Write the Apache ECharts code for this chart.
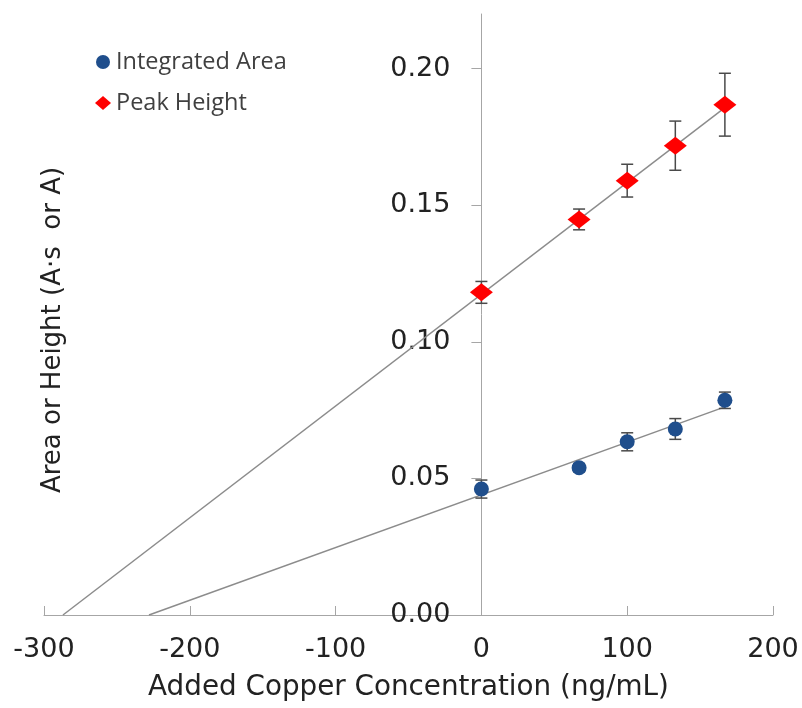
<!DOCTYPE html>
<html>
<head>
<meta charset="utf-8">
<script src="https://cdn.jsdelivr.net/npm/echarts@6/dist/echarts.min.js"></script>
<style>
html,body{margin:0;padding:0;background:#fff;}
#chart{width:802px;height:708px;}
</style>
</head>
<body>
<div id="chart"></div>
<script>
// ---- data ----
const concentrations = [0, 67, 100, 133, 167];
const integratedArea = [0.0461, 0.0539, 0.0634, 0.0681, 0.0786];
const areaError = [0.0033, 0.0015, 0.0033, 0.0038, 0.0030];
const peakHeight = [0.1181, 0.1448, 0.1590, 0.1718, 0.1868];
const peakError = [0.0040, 0.0038, 0.0060, 0.0090, 0.0115];
const areaTrend = [[-228, 0], [167, 0.0762]];
const peakTrend = [[-287, 0], [167, 0.1857]];
const xTicks = [-300, -200, -100, 0, 100, 200];
const yTicks = [0, 0.05, 0.10, 0.15, 0.20];
const seriesNames = ['Integrated Area', 'Peak Height'];
const xTitle = 'Added Copper Concentration (ng/mL)';
const yTitle = 'Area or Height (A·s  or A)';

const pts = (xs, ys) => xs.map((x, i) => [x, ys[i]]);
const errData = (xs, ys, es) => xs.map((x, i) => [x, ys[i] - es[i], ys[i] + es[i]]);

function errorBar(params, api) {
  const x = api.value(0);
  const lo = api.coord([x, api.value(1)]);
  const hi = api.coord([x, api.value(2)]);
  const cap = 6;
  const style = { stroke: '#4a4a4a', lineWidth: 1.5, fill: null };
  return {
    type: 'group',
    children: [
      { type: 'line', shape: { x1: lo[0], y1: lo[1], x2: hi[0], y2: hi[1] }, style },
      { type: 'line', shape: { x1: lo[0] - cap, y1: lo[1], x2: lo[0] + cap, y2: lo[1] }, style },
      { type: 'line', shape: { x1: hi[0] - cap, y1: hi[1], x2: hi[0] + cap, y2: hi[1] }, style }
    ]
  };
}

const font = 'DejaVu Sans, sans-serif';
const gridLeft = 44, gridRight = 29;
const plotW = 802 - gridLeft - gridRight;
// shift the y axis onto x = 0
const yOffset = -plotW * (0 - xTicks[0]) / (xTicks[xTicks.length - 1] - xTicks[0]);

const chart = echarts.init(document.getElementById('chart'), null, { renderer: 'canvas' });
chart.setOption({
  animation: false,
  backgroundColor: '#fff',
  grid: { left: gridLeft, right: gridRight, top: 14, bottom: 93, containLabel: false, outerBoundsMode: 'none' },
  legend: {
    data: [
      { name: seriesNames[0], icon: 'circle' },
      { name: seriesNames[1], icon: 'diamond' }
    ],
    orient: 'vertical',
    left: 90,
    top: 45,
    padding: 5,
    itemWidth: 16,
    itemHeight: 14,
    itemGap: 17,
    textStyle: { fontFamily: 'Open Sans, sans-serif', fontSize: 23.5, color: '#404040', lineHeight: 24 }
  },
  xAxis: {
    type: 'value',
    min: -300, max: 200, interval: 100,
    name: xTitle,
    nameLocation: 'middle',
    nameGap: 59,
    nameTextStyle: { fontFamily: font, fontSize: 27.8, color: '#222' },
    axisLine: { onZero: true, lineStyle: { color: '#a6a6a6', width: 1 } },
    axisTick: { show: true, inside: true, length: 9, lineStyle: { color: '#a6a6a6' } },
    axisLabel: { margin: 21, fontFamily: font, fontSize: 27, color: '#222', customValues: xTicks },
    splitLine: { show: false }
  },
  yAxis: {
    type: 'value',
    min: 0, max: 0.22,
    position: 'left',
    offset: yOffset,
    axisLine: { show: true, onZero: false, lineStyle: { color: '#a6a6a6', width: 1 } },
    axisTick: { show: true, inside: false, length: 10, lineStyle: { color: '#a6a6a6' }, customValues: yTicks },
    axisLabel: { margin: 31, fontFamily: font, fontSize: 27, color: '#222', customValues: yTicks,
      formatter: v => v.toFixed(2) },
    splitLine: { show: false }
  },
  graphic: [{
    type: 'text',
    x: 53, y: 330,
    rotation: Math.PI / 2,
    style: { text: yTitle, textAlign: 'center', textVerticalAlign: 'middle',
      fontFamily: font, fontSize: 26, fill: '#222' }
  }],
  series: [
    { type: 'line', data: areaTrend, symbol: 'none', lineStyle: { color: '#8c8c8c', width: 1.5 }, z: 1, silent: true },
    { type: 'line', data: peakTrend, symbol: 'none', lineStyle: { color: '#8c8c8c', width: 1.5 }, z: 1, silent: true },
    { type: 'custom', renderItem: errorBar, data: errData(concentrations, integratedArea, areaError), z: 2, encode: { x: 0, y: [1, 2] } },
    { type: 'custom', renderItem: errorBar, data: errData(concentrations, peakHeight, peakError), z: 2, encode: { x: 0, y: [1, 2] } },
    { name: seriesNames[0], type: 'scatter', data: pts(concentrations, integratedArea), symbol: 'circle', symbolSize: 15,
      itemStyle: { color: '#1f4e8c', opacity: 1 }, z: 3 },
    { name: seriesNames[1], type: 'scatter', data: pts(concentrations, peakHeight), symbol: 'diamond', symbolSize: [23, 18],
      itemStyle: { color: '#ff0000', opacity: 1 }, z: 3 }
  ]
});
</script>
</body>
</html>
